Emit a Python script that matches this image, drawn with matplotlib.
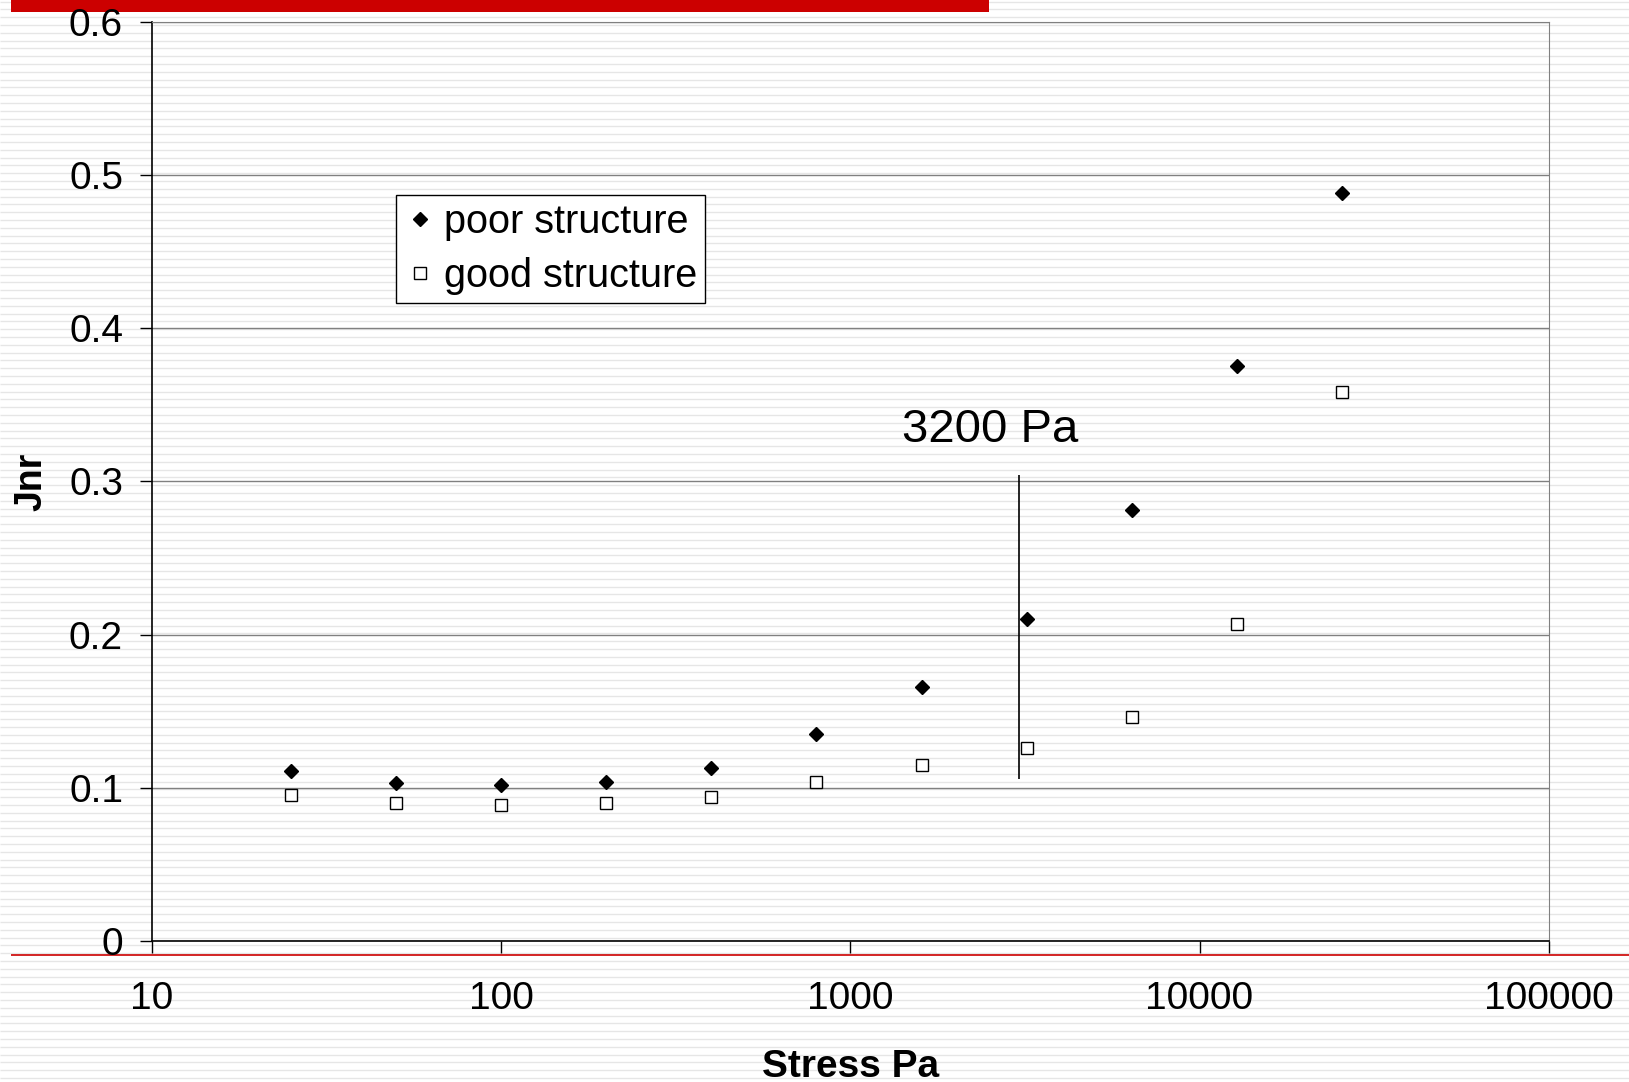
import matplotlib
matplotlib.use('Agg')
import matplotlib.pyplot as plt
import numpy as np

plt.rcParams['font.family'] = ['Liberation Sans', 'DejaVu Sans']

# stress levels (Pa) and non-recoverable creep compliance
stress = [25, 50, 100, 200, 400, 800, 1600, 3200, 6400, 12800, 25600]
jnr_poor = [0.111, 0.103, 0.102, 0.104, 0.113, 0.135, 0.166, 0.210, 0.281, 0.375, 0.488]
jnr_good = [0.095, 0.090, 0.089, 0.090, 0.094, 0.104, 0.115, 0.126, 0.146, 0.207, 0.358]

W, H = 1629, 1082
fig = plt.figure(figsize=(W / 100, H / 100), dpi=100)

# slide background: thin grey horizontal stripes
bg = fig.add_axes([0, 0, 1, 1], zorder=-5)
bg.set_xlim(0, W)
bg.set_ylim(H, 0)
bg.axis('off')
bg.hlines(np.arange(1.5, H, 7.8), 0, W, color='#e6e6e6', lw=1.0, zorder=1)
bg.fill_between([11, 989], 0, 12, color='#cc0000', lw=0, zorder=5)
bg.hlines(955, 11, W, color='#cc0000', lw=1.2, zorder=5)

ax = fig.add_axes([0.0931, 0.1303, 0.8577, 0.8497])
ax.patch.set_alpha(0)
ax.set_xscale('log')
ax.set_xlim(10, 100000)
ax.set_ylim(0, 0.6)
ax.set_yticks(np.arange(0, 0.61, 0.1))
ax.set_yticklabels(['0', '0.1', '0.2', '0.3', '0.4', '0.5', '0.6'])
ax.set_xticks([10, 100, 1000, 10000, 100000])
ax.set_xticklabels(['10', '100', '1000', '10000', '100000'])
ax.minorticks_off()
ax.grid(axis='y', color='#808080', lw=1)
for s in ['top', 'right']:
    ax.spines[s].set_color('#808080')
for s in ['left', 'bottom']:
    ax.spines[s].set_color('black')
    ax.spines[s].set_linewidth(1.2)
ax.tick_params(direction='out', length=8.6, width=1, labelsize=28, color='black')
ax.tick_params(axis='y', pad=12)
ax.tick_params(axis='x', pad=20)

ax.plot(stress, jnr_poor, 'D', color='black', ms=7.5, label='poor structure', zorder=3)
ax.plot(stress, jnr_good, 's', mfc='white', mec='black', mew=1, ms=8.5,
        label='good structure', zorder=3)

# critical stress marker
ax.vlines(3050, 0.106, 0.304, color='black', lw=1.2)
ax.text(2512, 0.3336, '3200 Pa', fontsize=34, ha='center', va='center')

ax.set_xlabel('Stress Pa', fontsize=28, fontweight='bold', labelpad=23)
ax.set_ylabel('Jnr', fontsize=27, fontweight='bold', labelpad=14)

leg = ax.legend(loc='upper left', bbox_to_anchor=(0.175, 0.8115), fontsize=28.5,
                frameon=True, fancybox=False, edgecolor='black', framealpha=1,
                handletextpad=0.2, borderpad=0.2, labelspacing=0.4,
                handlelength=0.8, borderaxespad=0)
leg.get_frame().set_linewidth(1)

fig.savefig('out.png', dpi=100)
